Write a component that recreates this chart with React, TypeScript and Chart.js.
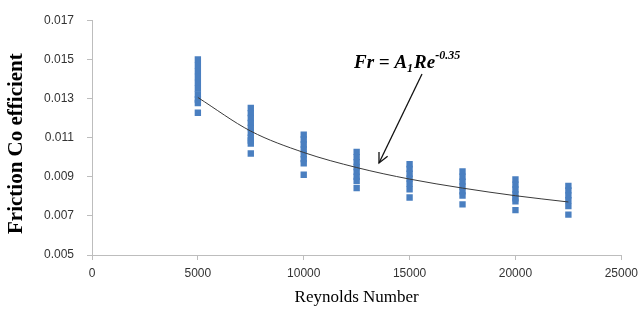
import React, { useEffect, useRef } from "react";
import { Chart, registerables } from "chart.js";

Chart.register(...registerables);

// Reynolds numbers of the measured columns
const reynolds = [5000, 7500, 10000, 12500, 15000, 17500, 20000, 22500];

// Measured friction coefficients per Reynolds number
const fr5000 = [0.015, 0.0147, 0.0144, 0.0141, 0.0138, 0.0135, 0.0132, 0.01295, 0.01277, 0.01227];
const fr7500 = [0.01251, 0.01225, 0.012, 0.01175, 0.0115, 0.01125, 0.011, 0.01085, 0.01069, 0.01019];
const fr10000 = [0.01115, 0.0109, 0.01065, 0.0104, 0.01015, 0.0099, 0.00969, 0.0091];
const fr12500 = [0.01027, 0.01, 0.00975, 0.0095, 0.00925, 0.009, 0.00878, 0.00842];
const fr15000 = [0.00964, 0.0094, 0.00915, 0.0089, 0.00865, 0.00836, 0.00794];
const fr17500 = [0.00927, 0.009, 0.00875, 0.0085, 0.00825, 0.00804, 0.00759];
const fr20000 = [0.00886, 0.0086, 0.00835, 0.0081, 0.0079, 0.00774, 0.00729];
const fr22500 = [0.00853, 0.0083, 0.00805, 0.0078, 0.0075, 0.00706];

const measured = [fr5000, fr7500, fr10000, fr12500, fr15000, fr17500, fr20000, fr22500];

// Fitted trend line Fr = A1 Re^-0.35
const trendRe = [5000, 7500, 10000, 12500, 15000, 17500, 20000, 22500];
const trendFr = [0.01305, 0.01133, 0.01024, 0.00947, 0.00888, 0.00842, 0.00803, 0.00771];

// Axis ticks
const xTicks = [0, 5000, 10000, 15000, 20000, 25000];
const yTicks = [0.005, 0.007, 0.009, 0.011, 0.013, 0.015, 0.017];

const xTitle = "Reynolds Number";
const yTitle = "Friction Co efficient";

const axisColor = "#bdbdbd";
const markerColor = "#4a7fc0";

const titlesPlugin = {
  id: "titles",
  afterDraw(chart: any) {
    const ctx = chart.ctx as CanvasRenderingContext2D;
    const area = chart.chartArea;
    ctx.save();
    ctx.fillStyle = "#000";
    ctx.textAlign = "center";
    ctx.textBaseline = "middle";
    // x title
    ctx.font = "17px 'Liberation Serif', serif";
    ctx.fillText(xTitle, (area.left + area.right) / 2, 298);
    // y title
    ctx.translate(17, (area.top + area.bottom) / 2 + 6);
    ctx.rotate(-Math.PI / 2);
    ctx.font = "bold 21px 'Liberation Serif', serif";
    ctx.fillText(yTitle, 0, 0);
    ctx.restore();

    // annotation formula with arrow
    ctx.save();
    ctx.fillStyle = "#000";
    ctx.textBaseline = "alphabetic";
    ctx.textAlign = "left";
    let x = 354;
    const base = 68;
    ctx.font = "italic bold 19px 'Liberation Serif', serif";
    const p1 = "Fr = A";
    ctx.fillText(p1, x, base);
    x += ctx.measureText(p1).width;
    ctx.font = "italic bold 12px 'Liberation Serif', serif";
    ctx.fillText("1", x, base + 4);
    x += ctx.measureText("1").width + 1;
    ctx.font = "italic bold 19px 'Liberation Serif', serif";
    ctx.fillText("Re", x, base);
    x += ctx.measureText("Re").width;
    ctx.font = "italic bold 12px 'Liberation Serif', serif";
    ctx.fillText("-0.35", x, base - 9);

    // arrow
    const sx = 422, sy = 74, ex = 379, ey = 163;
    ctx.strokeStyle = "#111";
    ctx.lineWidth = 1.3;
    ctx.beginPath();
    ctx.moveTo(sx, sy);
    ctx.lineTo(ex, ey);
    ctx.stroke();
    const ang = Math.atan2(ey - sy, ex - sx);
    const hl = 11;
    ctx.beginPath();
    ctx.moveTo(ex + hl * Math.cos(ang + Math.PI - 0.45), ey + hl * Math.sin(ang + Math.PI - 0.45));
    ctx.lineTo(ex, ey);
    ctx.lineTo(ex + hl * Math.cos(ang + Math.PI + 0.45), ey + hl * Math.sin(ang + Math.PI + 0.45));
    ctx.stroke();
    ctx.restore();
  },
};

export default function App() {
  const ref = useRef<HTMLCanvasElement>(null);

  useEffect(() => {
    document.body.style.margin = "0";
    const canvas = ref.current;
    if (!canvas) return;

    const points: { x: number; y: number }[] = [];
    reynolds.forEach((re, i) => {
      measured[i].forEach((v) => points.push({ x: re, y: v }));
    });
    const trend = trendRe.map((re, i) => ({ x: re, y: trendFr[i] }));

    const chart = new Chart(canvas, {
      type: "scatter",
      data: {
        datasets: [
          {
            label: "Trend",
            data: trend,
            showLine: true,
            borderColor: "#3a3a3a",
            borderWidth: 1,
            pointRadius: 0,
            cubicInterpolationMode: "monotone",
            order: 0,
          } as any,
          {
            label: "Measured",
            data: points,
            pointStyle: "rect",
            pointRadius: 4.5,
            backgroundColor: markerColor,
            borderColor: markerColor,
            borderWidth: 0,
            order: 1,
          } as any,
        ],
      },
      options: {
        responsive: false,
        animation: false,
        devicePixelRatio: 1,
        layout: { padding: { top: 14, right: 22, bottom: 0, left: 0 } },
        plugins: {
          legend: { display: false },
          tooltip: { enabled: false },
        },
        scales: {
          x: {
            type: "linear",
            min: xTicks[0],
            max: xTicks[xTicks.length - 1],
            afterBuildTicks: (scale: any) => {
              scale.ticks = xTicks.map((v) => ({ value: v }));
            },
            afterFit: (scale: any) => {
              scale.height = 65;
            },
            ticks: {
              callback: (v: any) => String(v),
              font: { family: "'Liberation Sans', sans-serif", size: 12 },
              color: "#333",
              padding: 6,
              maxRotation: 0,
            },
            grid: { drawOnChartArea: false, drawTicks: true, tickLength: 5, color: axisColor },
            border: { display: true, color: axisColor },
          },
          y: {
            type: "linear",
            min: yTicks[0],
            max: yTicks[yTicks.length - 1],
            afterBuildTicks: (scale: any) => {
              scale.ticks = yTicks.map((v) => ({ value: v }));
            },
            afterFit: (scale: any) => {
              scale.width = 92;
            },
            ticks: {
              callback: (v: any) => Number(v).toFixed(3),
              font: { family: "'Liberation Sans', sans-serif", size: 12 },
              color: "#333",
              padding: 13,
            },
            grid: { drawOnChartArea: false, drawTicks: true, tickLength: 5, color: axisColor },
            border: { display: true, color: axisColor },
          },
        },
      },
      plugins: [titlesPlugin],
    });

    return () => chart.destroy();
  }, []);

  return (
    <div style={{ width: 644, height: 320, background: "#fff" }}>
      <canvas ref={ref} width={644} height={320} style={{ display: "block" }} />
    </div>
  );
}
